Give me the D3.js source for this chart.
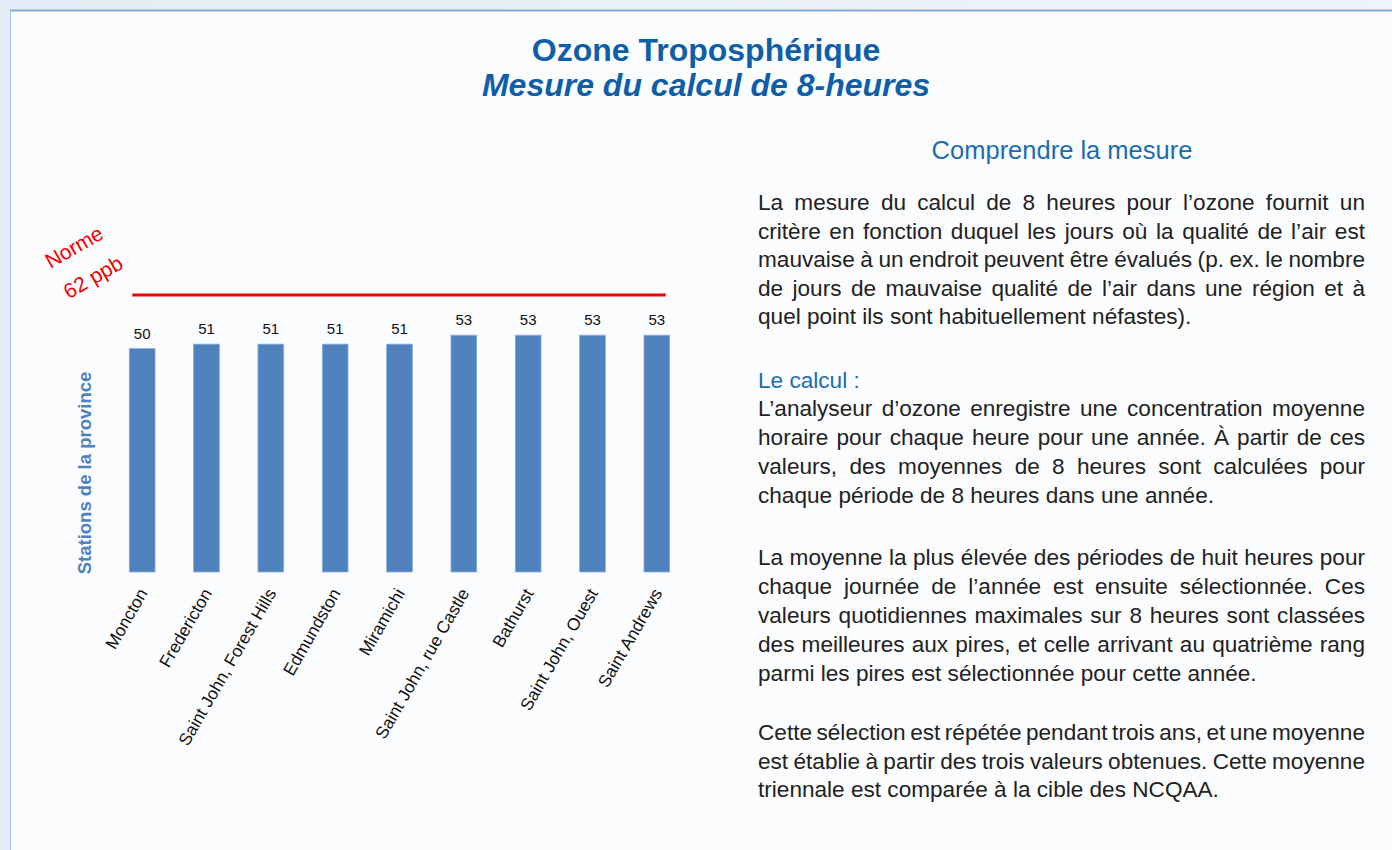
<!DOCTYPE html>
<html>
<head>
<meta charset="utf-8">
<script src="https://d3js.org/d3.v7.min.js"></script>
<style>
  body { margin: 0; padding: 0; background: #e9eff8; }
  svg { display: block; font-family: "Liberation Sans", Arial, sans-serif; }
</style>
</head>
<body>
<div id="chart"></div>
<script>
// chart data
const stations = ["Moncton", "Fredericton", "Saint John, Forest Hills", "Edmundston", "Miramichi",
  "Saint John, rue Castle", "Bathurst", "Saint John, Ouest", "Saint Andrews"];
const values = [50, 51, 51, 51, 51, 53, 53, 53, 53];
const norme = 62;
const normeLabel = ["Norme", "62 ppb"];

const title = "Ozone Troposphérique";
const subtitle = "Mesure du calcul de 8-heures";
const yLabel = "Stations de la province";

// side text, one entry per printed line
const heading = "Comprendre la mesure";
const para1 = [
  "La mesure du calcul de 8 heures pour l’ozone fournit un",
  "critère en fonction duquel les jours où la qualité de l’air est",
  "mauvaise à un endroit peuvent être évalués (p. ex. le nombre",
  "de jours de mauvaise qualité de l’air dans une région et à",
  "quel point ils sont habituellement néfastes)."
];
const subheading = "Le calcul :";
const para2 = [
  "L’analyseur d’ozone enregistre une concentration moyenne",
  "horaire pour chaque heure pour une année. À partir de ces",
  "valeurs, des moyennes de 8 heures sont calculées pour",
  "chaque période de 8 heures dans une année."
];
const para3 = [
  "La moyenne la plus élevée des périodes de huit heures pour",
  "chaque journée de l’année est ensuite sélectionnée. Ces",
  "valeurs quotidiennes maximales sur 8 heures sont classées",
  "des meilleures aux pires, et celle arrivant au quatrième rang",
  "parmi les pires est sélectionnée pour cette année."
];
const para4 = [
  "Cette sélection est répétée pendant trois ans, et une moyenne",
  "est établie à partir des trois valeurs obtenues. Cette moyenne",
  "triennale est comparée à la cible des NCQAA."
];

const W = 1392, H = 850;
const blue = "#4f81bd", titleBlue = "#0f5ea8", textBlue = "#1b6cb3";

const svg = d3.select("#chart").append("svg")
  .attr("width", W)
  .attr("height", H);

// page background and panel
const defs = svg.append("defs");
const grad = defs.append("linearGradient").attr("id", "bg").attr("x1", 0).attr("x2", 1);
grad.append("stop").attr("offset", "0%").attr("stop-color", "#e4ecf7");
grad.append("stop").attr("offset", "100%").attr("stop-color", "#f0f4fa");
svg.append("rect").attr("width", W).attr("height", H).attr("fill", "url(#bg)");
svg.append("rect")
  .attr("x", 10.5).attr("y", 10.5)
  .attr("width", W).attr("height", H)
  .attr("fill", "#fbfcfe")
  .attr("stroke", "#a6c0e0");
svg.append("line")
  .attr("x1", 10).attr("x2", W).attr("y1", 10.5).attr("y2", 10.5)
  .attr("stroke", "#86a9d4").attr("stroke-width", 2);

// titles
svg.append("text")
  .attr("x", 706).attr("y", 61)
  .attr("text-anchor", "middle")
  .style("font-size", "32px").style("font-weight", "bold")
  .attr("fill", titleBlue)
  .text(title);
svg.append("text")
  .attr("x", 706).attr("y", 96)
  .attr("text-anchor", "middle")
  .style("font-size", "32px").style("font-weight", "bold").style("font-style", "italic")
  .attr("fill", titleBlue)
  .text(subtitle);

// scales
const x = d3.scaleBand()
  .domain(stations)
  .range([110, 689])
  .paddingInner(0.6)
  .paddingOuter(0.3);

const y = d3.scaleLinear()
  .domain([0, norme])
  .range([572, 295]);

const chart = svg.append("g");

// bars
chart.selectAll(".bar")
  .data(values)
  .enter().append("rect")
  .attr("class", "bar")
  .attr("x", (d, i) => x(stations[i]))
  .attr("y", d => y(d))
  .attr("width", x.bandwidth())
  .attr("height", d => y(0) - y(d))
  .attr("fill", blue)
  .attr("stroke", "#8eaedb")
  .attr("stroke-width", 0.8);

// value labels
chart.selectAll(".val")
  .data(values)
  .enter().append("text")
  .attr("class", "val")
  .attr("x", (d, i) => x(stations[i]) + x.bandwidth() / 2)
  .attr("y", d => y(d) - 10)
  .attr("text-anchor", "middle")
  .style("font-size", "15px")
  .attr("fill", "#111")
  .text(d => d);

// norm line
chart.append("line")
  .attr("x1", x(stations[0]) + 3)
  .attr("x2", x(stations[stations.length - 1]) + x.bandwidth() - 4)
  .attr("y1", y(norme)).attr("y2", y(norme))
  .attr("stroke", "#f00000")
  .attr("stroke-width", 3);

chart.selectAll(".norme")
  .data(normeLabel)
  .enter().append("text")
  .attr("class", "norme")
  .attr("transform", (d, i) => `translate(${74 + i * 19},${247 + i * 30}) rotate(-30)`)
  .attr("text-anchor", "middle")
  .attr("dy", "0.35em")
  .style("font-size", "21px")
  .attr("fill", "#f00000")
  .text(d => d);

// x labels
chart.selectAll(".xlab")
  .data(stations)
  .enter().append("text")
  .attr("class", "xlab")
  .attr("transform", d => `translate(${x(d) + x.bandwidth() / 2 + 6},593) rotate(-60)`)
  .attr("text-anchor", "end")
  .style("font-size", "17.3px")
  .attr("fill", "#111")
  .text(d => d);

// y label
chart.append("text")
  .attr("transform", "translate(91,473) rotate(-90)")
  .attr("text-anchor", "middle")
  .style("font-size", "18.5px").style("font-weight", "bold")
  .attr("fill", blue)
  .text(yLabel);

// right side text
const textX = 758, textW = 607, fs = 22.6;

svg.append("text")
  .attr("x", 1062).attr("y", 159)
  .attr("text-anchor", "middle")
  .style("font-size", "25.5px")
  .attr("fill", textBlue)
  .text(heading);

svg.append("text")
  .attr("x", textX).attr("y", 388)
  .style("font-size", fs + "px")
  .attr("fill", textBlue)
  .text(subheading);

function paragraph(lines, firstCenter, lead) {
  lines.forEach((line, i) => {
    const t = svg.append("text")
      .attr("x", textX)
      .attr("y", firstCenter + i * lead + 7)
      .style("font-size", fs + "px")
      .attr("fill", "#222")
      .text(line);
    if (i < lines.length - 1) {
      const natural = t.node().getComputedTextLength();
      const gaps = line.split(" ").length - 1;
      t.style("word-spacing", ((textW - natural) / gaps) + "px");
    }
  });
}

paragraph(para1, 203, 28.5);
paragraph(para2, 409, 29);
paragraph(para3, 558, 29);
paragraph(para4, 733, 28.7);
</script>
</body>
</html>
